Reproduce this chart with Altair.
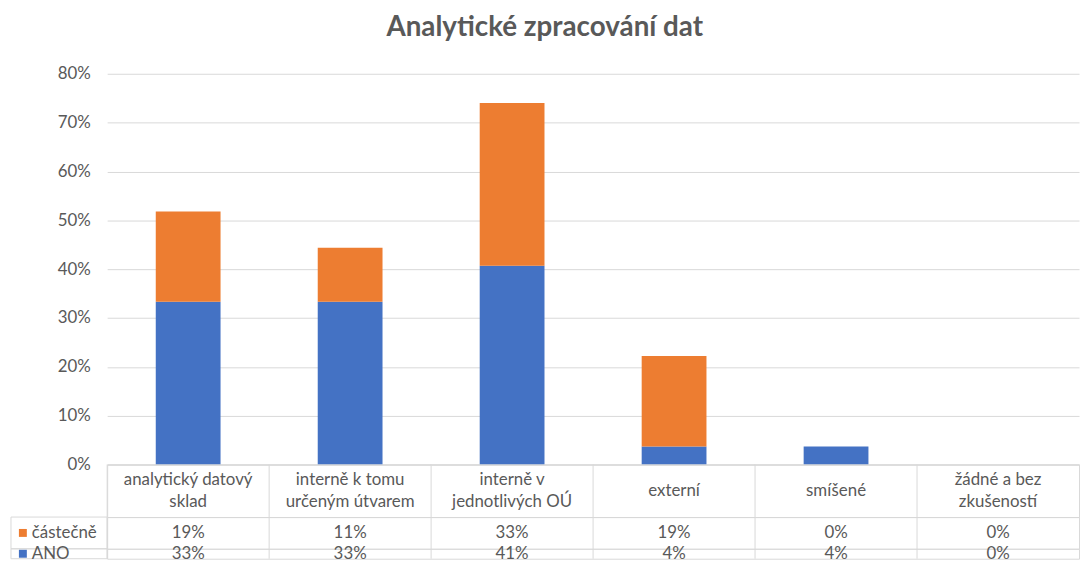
import altair as alt
import pandas as pd

categories = [
    "analytický datový\nsklad",
    "interně k tomu\nurčeným útvarem",
    "interně v\njednotlivých OÚ",
    "externí",
    "smíšené",
    "žádné a bez\nzkušeností",
]
ano = [0.333, 0.333, 0.407, 0.037, 0.037, 0.0]
castecne = [0.185, 0.111, 0.333, 0.185, 0.0, 0.0]
series = ["ANO", "částečně"]
colors = ["#4472C4", "#ED7D31"]
y_ticks = [0, 0.1, 0.2, 0.3, 0.4, 0.5, 0.6, 0.7, 0.8]

rows = []
for c, a, p in zip(categories, ano, castecne):
    rows.append({"cat": c, "series": "ANO", "value": a, "order": 0})
    rows.append({"cat": c, "series": "částečně", "value": p, "order": 1})
df = pd.DataFrame(rows)

W = 980
GRID = "#d9d9d9"
TXT = "#595959"
FONT = "Lato"
FS = 17

color_scale = alt.Scale(domain=series, range=colors)

bars = alt.Chart(df).mark_bar().encode(
    x=alt.X("cat:N", sort=categories,
            scale=alt.Scale(domain=categories, paddingInner=0.6, paddingOuter=0.3),
            axis=alt.Axis(labels=False, ticks=False, title=None, domain=True,
                          domainColor=GRID, grid=False)),
    y=alt.Y("value:Q", stack="zero", scale=alt.Scale(domain=[0, 0.8]),
            axis=alt.Axis(values=y_ticks, format=".0%", title=None, domain=False,
                          ticks=False, labelPadding=17, gridColor=GRID,
                          labelFontSize=FS, labelColor=TXT, labelFont=FONT)),
    color=alt.Color("series:N", scale=color_scale, legend=None),
    order=alt.Order("order:Q"),
).properties(width=W, height=394, view=alt.ViewBackground(stroke="transparent"))

table_scale = alt.Scale(domain=categories, paddingInner=0, paddingOuter=0)
table_x = alt.X("cat:N", sort=categories, scale=table_scale, axis=None)
sep_x = alt.X("cat:N", sort=categories, scale=table_scale, axis=None, bandPosition=0)

cat_df = pd.DataFrame({"cat": categories})


def separators(h):
    return alt.Chart(cat_df).mark_rule(color=GRID, strokeWidth=1).encode(
        x=sep_x, y=alt.value(0), y2=alt.value(h))


cat_base = alt.Chart(cat_df)
cat_two = cat_base.mark_text(
    lineBreak="\n", fontSize=FS, color=TXT, font=FONT, lineHeight=22, dy=-11
).encode(x=table_x, text="cat:N").transform_filter("indexof(datum.cat, '\\n') >= 0")
cat_one = cat_base.mark_text(
    fontSize=FS, color=TXT, font=FONT
).encode(x=table_x, text="cat:N").transform_filter("indexof(datum.cat, '\\n') < 0")
cat_row = alt.layer(separators(53), cat_two, cat_one).properties(
    width=W, height=53, view=alt.ViewBackground(stroke=GRID))


def row_chart(name, h):
    d = df[df.series == name]
    lab_df = pd.DataFrame({"series": [name]})
    vals = alt.Chart(d).mark_text(fontSize=FS, color=TXT, font=FONT).encode(
        x=table_x, text=alt.Text("value:Q", format=".0%"))
    box = alt.Chart(lab_df).mark_rect(fillOpacity=0, stroke=GRID, strokeWidth=1).encode(
        x=alt.value(-97), x2=alt.value(0), y=alt.value(0), y2=alt.value(h))
    sq = alt.Chart(lab_df).mark_square(size=64, opacity=1).encode(
        x=alt.value(-85), y=alt.value(h / 2),
        color=alt.Color("series:N", scale=color_scale, legend=None))
    lab = alt.Chart(lab_df).mark_text(align="left", fontSize=FS, color=TXT, font=FONT).encode(
        x=alt.value(-76), y=alt.value(h / 2), text="series:N")
    return alt.layer(separators(h), box, vals, sq, lab).properties(
        width=W, height=h, view=alt.ViewBackground(stroke=GRID))


chart = alt.vconcat(
    bars, cat_row, row_chart("částečně", 32), row_chart("ANO", 10),
    spacing=0, bounds="flush",
).properties(
    title=alt.TitleParams("Analytické zpracování dat", fontSize=28, font=FONT,
                          color=TXT, fontWeight="bold", anchor="middle",
                          frame="bounds", offset=23),
    padding={"left": 2, "top": 3, "right": 0, "bottom": 0},
).resolve_scale(x="independent").configure_view(stroke=GRID)

chart.save("out.html", embed_options={"renderer": "svg", "actions": False})
